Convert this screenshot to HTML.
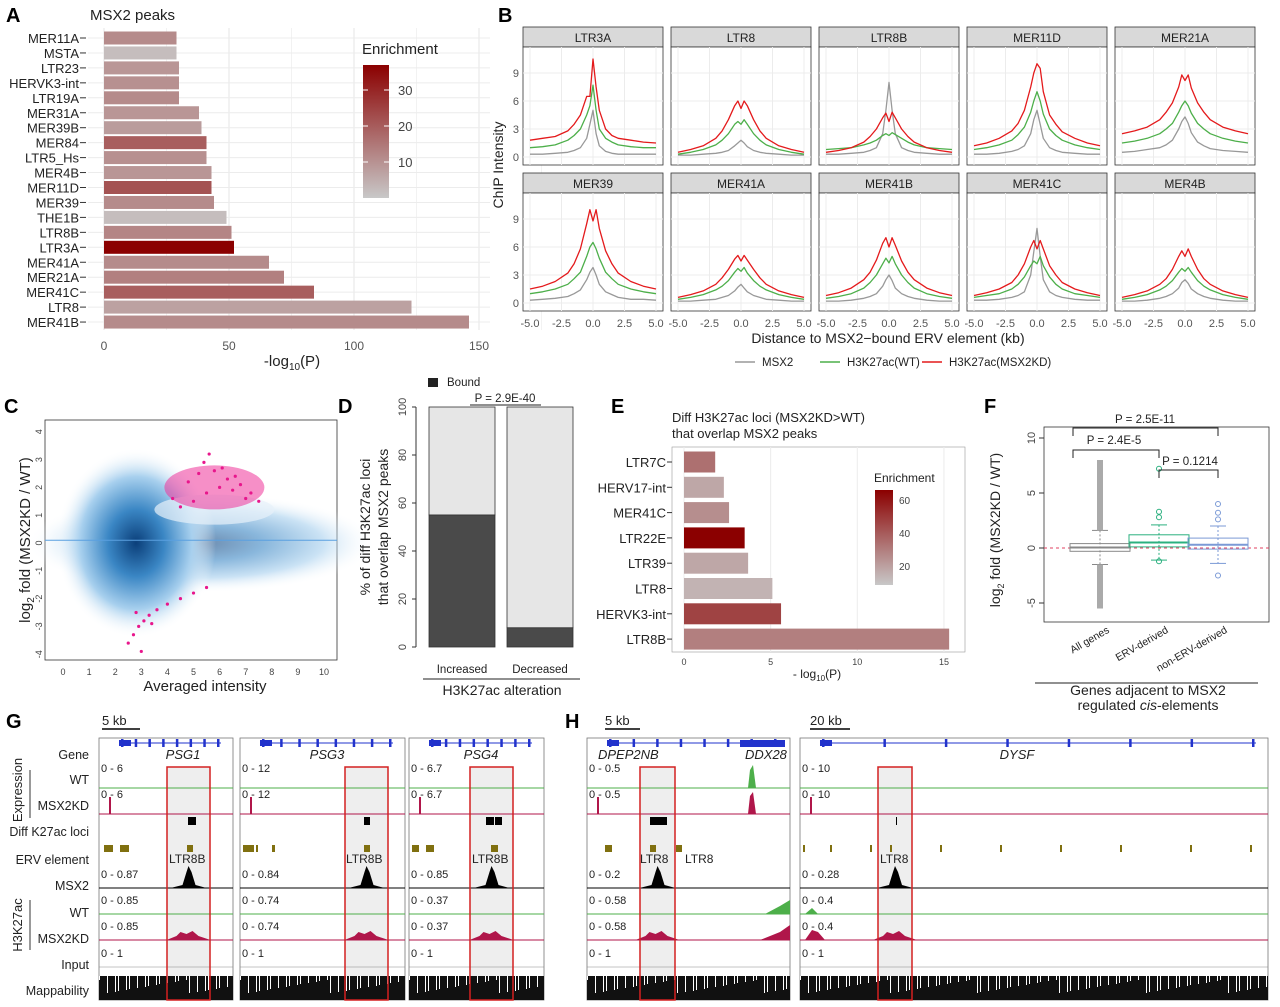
<!DOCTYPE html>
<html><head><meta charset="utf-8"><style>
body{margin:0;background:#fff;font-family:"Liberation Sans",sans-serif}
svg text{font-family:"Liberation Sans",sans-serif}
</style></head><body>
<svg id="fig" width="1280" height="1002" viewBox="0 0 1280 1002" xmlns="http://www.w3.org/2000/svg"></svg>
<script>
// ---------- Panel A data ----------
const aCats=["MER11A","MSTA","LTR23","HERVK3-int","LTR19A","MER31A","MER39B","MER84","LTR5_Hs","MER4B","MER11D","MER39","THE1B","LTR8B","LTR3A","MER41A","MER21A","MER41C","LTR8","MER41B"];
const aVals=[29,29,30,30,30,38,39,41,41,43,43,44,49,51,52,66,72,84,123,146];
const aEnr=[12,3,10,11,12,10,9,20,11,10,22,12,3,13,37,12,14,20,8,12];
const aTicks=[0,50,100,150];
const aLegTicks=[10,20,30];
// ---------- Panel B data ----------
const bFacets=["LTR3A","LTR8","LTR8B","MER11D","MER21A","MER39","MER41A","MER41B","MER41C","MER4B"];
const bX=[-5,-4,-3,-2,-1.5,-1,-0.5,-0.25,0,0.25,0.5,1,1.5,2,3,4,5];
const bMSX2=[
[0.3,0.3,0.4,0.5,0.7,1,2,3.5,5,2.5,1.2,0.6,0.4,0.3,0.3,0.3,0.3],
[0.2,0.2,0.3,0.4,0.5,0.7,1.2,1.5,1.8,1.5,1.1,0.7,0.5,0.4,0.3,0.2,0.2],
[0.3,0.3,0.4,0.5,0.7,1,2.5,5,8,5,2.5,1,0.7,0.5,0.4,0.3,0.3],
[0.3,0.3,0.4,0.6,0.8,1.2,2.5,4,5,3.5,2,1,0.7,0.5,0.4,0.3,0.3],
[0.5,0.6,0.8,1,1.3,1.8,3,3.8,4.3,3.6,2.6,1.6,1.2,0.9,0.7,0.6,0.5],
[0.3,0.4,0.5,0.7,1,1.4,2.5,3.3,3.8,3,2,1.2,0.9,0.6,0.4,0.4,0.3],
[0.2,0.2,0.3,0.4,0.6,0.8,1.3,1.7,2,1.6,1.2,0.8,0.6,0.4,0.3,0.2,0.2],
[0.2,0.2,0.3,0.5,0.7,1,1.8,2.5,3,2.4,1.6,1,0.7,0.5,0.3,0.2,0.2],
[0.3,0.3,0.4,0.6,0.8,1.2,3,5.5,8,5,2.5,1.2,0.8,0.6,0.4,0.3,0.3],
[0.2,0.2,0.3,0.5,0.7,1,1.6,2.2,2.5,2.1,1.5,1,0.7,0.5,0.3,0.2,0.2]];
const bWT=[
[1,1.1,1.3,1.8,2.3,3,4.5,5.5,7.7,5,3,2,1.6,1.3,1.1,1,1],
[0.3,0.5,0.8,1.3,1.8,2.5,3.5,3.8,3.5,4,3.5,2.5,1.8,1.3,0.8,0.5,0.3],
[0.8,0.9,1,1.3,1.5,1.8,2.3,2.5,2.3,2.6,2.4,2,1.6,1.3,1,0.9,0.8],
[0.8,1,1.3,1.8,2.4,3.2,4.8,6,7,6,4.6,3,2.3,1.8,1.3,1,0.8],
[1.5,1.7,2,2.5,3,3.6,4.8,5.5,6,5.5,4.7,3.6,3,2.5,2,1.7,1.5],
[1,1.2,1.5,2,2.6,3.3,5,6,6.5,5.8,4.8,3.3,2.6,2,1.5,1.2,1],
[0.4,0.6,0.9,1.4,1.8,2.4,3.3,3.7,3.4,3.8,3.2,2.4,1.8,1.4,0.9,0.6,0.4],
[0.5,0.7,1,1.6,2.2,3,4.2,4.8,4.3,5,4.2,3,2.2,1.6,1,0.7,0.5],
[0.6,0.8,1,1.5,2,2.8,4,4.5,4.2,5,4,2.8,2,1.5,1,0.8,0.6],
[0.4,0.6,0.9,1.4,1.8,2.4,3.3,3.7,3.4,3.8,3.3,2.4,1.8,1.4,0.9,0.6,0.4]];
const bKD=[
[1.8,2,2.2,2.8,3.5,4.5,6.5,6.5,10.5,7.5,5,3,2.3,2,1.8,1.6,1.5],
[0.5,0.8,1.2,2,2.8,4,5.5,6,5.2,6,5.5,4,2.8,2,1.2,0.8,0.5],
[0.5,0.7,1,1.6,2.2,3,4.2,4.7,3.8,4.8,4.2,3,2.2,1.6,1,0.7,0.5],
[1.2,1.5,2,2.8,3.6,5,7.5,9,10,9.5,7,4.5,3.5,2.7,2,1.5,1.2],
[2.5,2.8,3.2,4,4.8,5.8,7.5,8.8,8.2,8.8,7.4,5.8,4.8,4,3.2,2.8,2.5],
[1.5,1.8,2.3,3.2,4.2,5.8,8.5,10,8.8,10,8,5.6,4.2,3.2,2.3,1.8,1.5],
[0.6,0.9,1.3,2,2.7,3.6,4.7,5.1,4.5,5.1,4.6,3.6,2.7,2,1.3,0.9,0.6],
[0.8,1.1,1.6,2.5,3.3,4.6,6.4,7,6,7,6.2,4.5,3.3,2.5,1.6,1.1,0.8],
[0.8,1.1,1.5,2.2,3,4.2,6,6.7,5.8,6.7,5.8,4,3,2.2,1.5,1.1,0.8],
[0.6,0.9,1.3,2,2.6,3.6,5,5.6,5,5.8,5,3.6,2.6,2,1.3,0.9,0.6]];
const bYTicks=[0,3,6,9];
const bXTicks=[-5,-2.5,0,2.5,5];
// ---------- Panel D data ----------
const dCats=["Increased","Decreased"];
const dBound=[55,8];
const dTicks=[0,20,40,60,80,100];
// ---------- Panel E data ----------
const eCats=["LTR7C","HERV17-int","MER41C","LTR22E","LTR39","LTR8","HERVK3-int","LTR8B"];
const eVals=[1.8,2.3,2.6,3.5,3.7,5.1,5.6,15.3];
const eEnr=[30,12,20,67,12,8,45,25];
const eTicks=[0,5,10,15];
const eLegTicks=[20,40,60];
// ---------- Panel F data ----------
const fCats=["All genes","ERV-derived","non-ERV-derived"];
const fQ1=[-0.3,0.1,-0.1];const fMed=[0.05,0.5,0.3];const fQ3=[0.4,1.2,0.9];
const fLo=[-1.5,-1.1,-1.4];const fHi=[1.6,2.1,2.0];
const fYTicks=[-5,0,5,10];
// ---------- Panel C data ----------
const cUpX=[4.5,5,5.5,6,6.5,7,4.8,5.2,5.8,6.3,6.8,7.2,5.4,6.1,4.2,7.5,5.6,6.6];
const cUpY=[1.3,1.5,1.8,2,1.9,1.6,2.2,2.5,2.6,2.3,2.1,1.8,2.9,2.7,1.6,1.5,3.2,2.4];
const cDnX=[2.5,2.7,2.9,3.1,3.3,3.6,4,4.5,5,5.5,3,3.4,2.8];
const cDnY=[-3.6,-3.3,-3,-2.8,-2.6,-2.4,-2.2,-2,-1.8,-1.6,-3.9,-2.9,-2.5];

const S=document.getElementById('fig');const NS='http://www.w3.org/2000/svg';
function mk(tag,a,p){const e=document.createElementNS(NS,tag);for(const k in a)e.setAttribute(k,a[k]);(p||S).appendChild(e);return e;}
function tx(x,y,s,sz,anc,extra){const e=mk('text',Object.assign({x:x,y:y,'font-size':sz||12,'text-anchor':anc||'start',fill:'#222'},extra||{}));e.textContent=s;return e;}
function enrCol(v,max){const t=Math.max(0,Math.min(1,(v-1)/(max-1)));return `rgb(${Math.round(200-61*t)},${Math.round(200-200*t)},${Math.round(200-200*t)})`;}

[["A",6,22],["B",498,22],["C",4,413],["D",338,413],["E",611,413],["F",984,413],["G",6,728],["H",565,728]].forEach(l=>{const t=tx(l[1],l[2],l[0],20,'start',{'font-weight':'bold',fill:'#000'});});

// ===== Panel A =====
(function(){
const x0=104,sx=2.5,y0=38,dy=14.95;const xs=v=>x0+v*sx;
tx(90,20,"MSX2 peaks",15);
aTicks.forEach(t=>{mk('line',{x1:xs(t),x2:xs(t),y1:28,y2:330,stroke:'#e6e6e6'});mk('line',{x1:xs(t+25),x2:xs(t+25),y1:28,y2:330,stroke:'#f2f2f2'});const l=tx(xs(t),350,String(t),12,'middle',{fill:'#555'});});
aCats.forEach((c,i)=>{const y=y0+i*dy;mk('line',{x1:88,x2:490,y1:y,y2:y,stroke:'#ececec'});
const r=mk('rect',{x:x0,y:y-6.5,width:aVals[i]*sx,height:13,fill:enrCol(aEnr[i],37)});
const l=tx(79,y+5,c,13,'end');mk('line',{x1:80,x2:86,y1:y,y2:y,stroke:'#333'});});
const xt=tx(292,366,"-log",15,'middle');xt.innerHTML='-log<tspan font-size="10" dy="4">10</tspan><tspan dy="-4">(P)</tspan>';
tx(362,54,"Enrichment",15);
const g=mk('linearGradient',{id:'ga',x1:0,y1:1,x2:0,y2:0});mk('stop',{offset:0,'stop-color':'#c8c8c8'},g);mk('stop',{offset:1,'stop-color':'#8b0000'},g);
const cb=mk('rect',{x:363,y:65,width:26,height:133,fill:'url(#ga)'});
aLegTicks.forEach(t=>{const y=198-t*3.6;mk('line',{x1:363,x2:368,y1:y,y2:y,stroke:'#fff'});mk('line',{x1:384,x2:389,y1:y,y2:y,stroke:'#fff'});tx(398,y+5,String(t),13,'start',{fill:'#444'});});
})();

// ===== Panel B =====
(function(){
const colX=[523,671,819,967,1115],w=140;const rows=[{h:27,p:47,y0:157},{h:173,p:193,y0:303}];const sy=9.33;
bFacets.forEach((f,i)=>{const c=i%5,r=Math.floor(i/5);const X=colX[c],R=rows[r];
mk('rect',{x:X,y:R.h,width:w,height:20,fill:'#d9d9d9',stroke:'#333','stroke-width':0.8});
const h=tx(X+w/2,R.h+15,f,12,'middle');
mk('rect',{x:X,y:R.p,width:w,height:118,fill:'#fff',stroke:'#333','stroke-width':0.8});
const xs=v=>X+7+(v+5)*12.6;const ys=v=>R.y0-v*sy;
bXTicks.forEach(t=>mk('line',{x1:xs(t),x2:xs(t),y1:R.p,y2:R.p+118,stroke:'#ececec'}));
bYTicks.forEach(t=>mk('line',{x1:X,x2:X+w,y1:ys(t),y2:ys(t),stroke:'#ececec'}));
[[bMSX2[i],'#999','msx2'],[bWT[i],'#4daf4a','h3k27ac-wt'],[bKD[i],'#e41a1c','h3k27ac-kd']].forEach(s=>{
const p=mk('path',{d:s[0].map((v,k)=>(k?'L':'M')+xs(bX[k]).toFixed(1)+','+ys(v).toFixed(1)).join(''),fill:'none',stroke:s[1],'stroke-width':1.3,'stroke-linejoin':'round'});});
if(c==0)bYTicks.forEach(t=>tx(X-4,ys(t)+4,String(t),11,'end',{fill:'#555'}));
if(r==1)bXTicks.forEach(t=>tx(xs(t),327,t.toFixed(1),11,'middle',{fill:'#555'}));
});
const yt=tx(0,0,"ChIP Intensity",14,'middle',{transform:'translate(503,165) rotate(-90)'});
const xt=tx(888,343,"Distance to MSX2−bound ERV element (kb)",14,'middle');
[[735,'#999','MSX2'],[820,'#4daf4a','H3K27ac(WT)'],[922,'#e41a1c','H3K27ac(MSX2KD)']].forEach(l=>{mk('line',{x1:l[0],x2:l[0]+20,y1:362,y2:362,stroke:l[1],'stroke-width':1.4});const t=tx(l[0]+27,366,l[2],11.5);});
})();

// ===== Panel C =====
(function(){
const xs=v=>63+v*26.1,ys=v=>543-v*27.8;
mk('rect',{x:45,y:420,width:292,height:240,fill:'#fff',stroke:'#333','stroke-width':0.8});
const rg=mk('radialGradient',{id:'gc'});mk('stop',{offset:0,'stop-color':'#0b3f7a'},rg);mk('stop',{offset:0.35,'stop-color':'#3a86c4'},rg);mk('stop',{offset:0.7,'stop-color':'#a8d0ee'},rg);mk('stop',{offset:1,'stop-color':'#fff','stop-opacity':0},rg);
mk('ellipse',{cx:xs(5.3),cy:ys(0),rx:175,ry:50,fill:'url(#gc)',opacity:0.6});
mk('ellipse',{cx:xs(2.8),cy:ys(0),rx:80,ry:95,fill:'url(#gc)'});
mk('ellipse',{cx:xs(5.8),cy:ys(1.2),rx:60,ry:15,fill:'#e7f1fa',opacity:0.7});
mk('line',{x1:45,x2:337,y1:ys(0.1),y2:ys(0.1),stroke:'#5aa0e0','stroke-width':1});
const pk=mk('ellipse',{cx:xs(5.8),cy:ys(2),rx:50,ry:22,fill:'#ee3399',opacity:0.55});
cUpX.forEach((v,i)=>{const d=mk('circle',{cx:xs(v),cy:ys(cUpY[i]),r:1.6,fill:'#e8168c'});});
cDnX.forEach((v,i)=>{const d=mk('circle',{cx:xs(v),cy:ys(cDnY[i]),r:1.6,fill:'#e8168c'});});
for(let t=0;t<=10;t++)tx(xs(t),675,String(t),9,'middle',{fill:'#444'});
for(let t=-4;t<=4;t++)tx(0,0,String(t),9,'middle',{fill:'#444',transform:`translate(42,${ys(t)}) rotate(-90)`});
const xt=tx(205,691,"Averaged intensity",15,'middle');
const yt=mk('text',{transform:'translate(30,540) rotate(-90)','font-size':15,'text-anchor':'middle',fill:'#222'});yt.innerHTML='log<tspan font-size="10" dy="4">2</tspan><tspan dy="-4"> fold (MSX2KD / WT)</tspan>';
})();

// ===== Panel D =====
(function(){
const ys=v=>647-v*2.4;const bx=[429,507];
mk('rect',{x:428,y:378,width:10,height:9,fill:'#222'});tx(447,386,"Bound",11.5);
mk('line',{x1:470,x2:541,y1:405,y2:405,stroke:'#222'});tx(505,402,"P = 2.9E-40",11.5,'middle');
dCats.forEach((c,i)=>{const a=mk('rect',{x:bx[i],y:ys(100),width:66,height:ys(dBound[i])-ys(100),fill:'#e6e6e6',stroke:'#333','stroke-width':0.8});
const b=mk('rect',{x:bx[i],y:ys(dBound[i]),width:66,height:ys(0)-ys(dBound[i]),fill:'#4a4a4a',stroke:'#333','stroke-width':0.8});
tx(bx[i]+33,673,c,11.5,'middle');});
dTicks.forEach(t=>{mk('line',{x1:412,x2:416,y1:ys(t),y2:ys(t),stroke:'#333'});tx(0,0,String(t),11,'middle',{fill:'#444',transform:`translate(406,${ys(t)}) rotate(-90)`});});
mk('line',{x1:416,x2:416,y1:ys(0),y2:ys(100),stroke:'#333'});
mk('line',{x1:423,x2:580,y1:679,y2:679,stroke:'#222'});
const xt=tx(502,695,"H3K27ac alteration",14,'middle');
tx(0,0,"% of diff H3K27ac loci",14,'middle',{transform:'translate(370,527) rotate(-90)'});
tx(0,0,"that overlap MSX2  peaks",14,'middle',{transform:'translate(388,527) rotate(-90)'});
})();

// ===== Panel E =====
(function(){
const xs=v=>684+v*17.33,y0=462,dy=25.3;
tx(672,422,"Diff H3K27ac loci (MSX2KD>WT)",13);tx(672,438,"that overlap MSX2 peaks",13);
mk('rect',{x:672,y:447,width:293,height:205,fill:'#fff',stroke:'#999','stroke-width':0.6});
eTicks.forEach(t=>{mk('line',{x1:xs(t),x2:xs(t),y1:447,y2:652,stroke:'#ececec'});tx(xs(t),665,String(t),9,'middle',{fill:'#444'});});
eCats.forEach((c,i)=>{const y=y0+i*dy;const r=mk('rect',{x:684,y:y-10.5,width:eVals[i]*17.33,height:21,fill:enrCol(eEnr[i],67)});
const l=tx(666,y+5,c,13,'end');mk('line',{x1:667,x2:672,y1:y,y2:y,stroke:'#333'});});
const xt=mk('text',{x:817,y:678,'font-size':12,'text-anchor':'middle',fill:'#222'});xt.innerHTML='- log<tspan font-size="8" dy="3">10</tspan><tspan dy="-3">(P)</tspan>';
tx(874,482,"Enrichment",12);
const g=mk('linearGradient',{id:'ge',x1:0,y1:1,x2:0,y2:0});mk('stop',{offset:0,'stop-color':'#c8c8c8'},g);mk('stop',{offset:1,'stop-color':'#8b0000'},g);
mk('rect',{x:875,y:490,width:18,height:95,fill:'url(#ge)'});
eLegTicks.forEach(t=>tx(899,599-t*1.65+4,String(t),10,'start',{fill:'#444'}));
})();

// ===== Panel F =====
(function(){
const ys=v=>548-v*11;const cx=[1100,1159,1218],col=['#888','#2bb07f','#7b9ad6'];
mk('rect',{x:1044,y:427,width:225,height:195,fill:'#fff',stroke:'#333','stroke-width':0.8});
mk('line',{x1:1044,x2:1269,y1:ys(0),y2:ys(0),stroke:'#e04060','stroke-dasharray':'3,3'});
fCats.forEach((c,i)=>{const x=cx[i];
mk('line',{x1:x,x2:x,y1:ys(fHi[i]),y2:ys(fLo[i]),stroke:col[i],'stroke-dasharray':'2,2'});
mk('line',{x1:x-8,x2:x+8,y1:ys(fHi[i]),y2:ys(fHi[i]),stroke:col[i]});mk('line',{x1:x-8,x2:x+8,y1:ys(fLo[i]),y2:ys(fLo[i]),stroke:col[i]});
const b=mk('rect',{x:x-30,y:ys(fQ3[i]),width:60,height:ys(fQ1[i])-ys(fQ3[i]),fill:'none',stroke:col[i]});
mk('line',{x1:x-30,x2:x+30,y1:ys(fMed[i]),y2:ys(fMed[i]),stroke:col[i],'stroke-width':2});
tx(0,0,c,10.5,'end',{transform:`translate(${x+10},${632}) rotate(-30)`});});
mk('rect',{x:1097,y:ys(8),width:6,height:ys(1.6)-ys(8),fill:'#aaa'});mk('rect',{x:1097,y:ys(-1.5),width:6,height:ys(-5.5)-ys(-1.5),fill:'#aaa'});
[[1159,7.2],[1159,3.3],[1159,2.8],[1159,-1.2],[1218,4],[1218,3.2],[1218,2.6],[1218,-2.5]].forEach(p=>mk('circle',{cx:p[0],cy:ys(p[1]),r:2.5,fill:'none',stroke:p[0]==1159?col[1]:col[2]}));
fYTicks.forEach(t=>{mk('line',{x1:1039,x2:1044,y1:ys(t),y2:ys(t),stroke:'#333'});tx(0,0,String(t),11,'middle',{fill:'#444',transform:`translate(1035,${ys(t)}) rotate(-90)`});});
const yt=mk('text',{transform:'translate(1000,530) rotate(-90)','font-size':14,'text-anchor':'middle',fill:'#222'});yt.innerHTML='log<tspan font-size="9" dy="4">2</tspan><tspan dy="-4"> fold (MSX2KD / WT)</tspan>';
[[1073,1218,428,"P = 2.5E-11",1145,423],[1073,1159,450,"P = 2.4E-5",1114,444],[1159,1218,470,"P = 0.1214",1190,465]].forEach(b=>{mk('path',{d:`M${b[0]},${b[2]+8}V${b[2]}H${b[1]}V${b[2]+8}`,fill:'none',stroke:'#222'});tx(b[4],b[5],b[3],11.5,'middle');});
mk('line',{x1:1035,x2:1258,y1:683,y2:683,stroke:'#222'});
tx(1148,695,"Genes adjacent to MSX2",14,'middle');
const t2=mk('text',{x:1148,y:710,'font-size':14,'text-anchor':'middle',fill:'#222'});t2.innerHTML='regulated <tspan font-style="italic">cis</tspan>-elements';
})();

// ===== Panels G & H (genome tracks) =====
(function(){
const rowY=[755,780,806,832,860,886,913,939,965,991];
const names=["Gene","WT","MSX2KD","Diff K27ac loci","ERV element","MSX2","WT","MSX2KD","Input","Mappability"];
names.forEach((n,i)=>{const t=tx(89,rowY[i]+4,n,12.5,'end');});
tx(0,0,"Expression",13,'middle',{transform:'translate(22,790) rotate(-90)'});tx(0,0,"H3K27ac",13,'middle',{transform:'translate(22,925) rotate(-90)'});
mk('line',{x1:30,x2:30,y1:770,y2:818,stroke:'#333'});mk('line',{x1:30,x2:30,y1:900,y2:950,stroke:'#333'});
mk('line',{x1:102,x2:140,y1:729,y2:729,stroke:'#000','stroke-width':1.5});tx(102,725,"5 kb",13);
mk('line',{x1:605,x2:640,y1:729,y2:729,stroke:'#000','stroke-width':1.5});tx(605,725,"5 kb",13);
mk('line',{x1:810,x2:850,y1:729,y2:729,stroke:'#000','stroke-width':1.5});tx(810,725,"20 kb",13);
const panels=[
{x:99,w:134,gene:"PSG1",gx:183,sc:["0 - 6","0 - 6","0 - 0.87","0 - 0.85","0 - 0.85","0 - 1"],box:[167,210],erv:[[104,113],[120,129],[187,193]],ltr:[["LTR8B",169]],diff:[[188,196]]},
{x:240,w:165,gene:"PSG3",gx:327,sc:["0 - 12","0 - 12","0 - 0.84","0 - 0.74","0 - 0.74","0 - 1"],box:[345,388],erv:[[243,254],[256,258],[272,275],[364,370]],ltr:[["LTR8B",346]],diff:[[364,370]]},
{x:409,w:135,gene:"PSG4",gx:481,sc:["0 - 6.7","0 - 6.7","0 - 0.85","0 - 0.37","0 - 0.37","0 - 1"],box:[470,513],erv:[[412,419],[426,434],[491,498]],ltr:[["LTR8B",472]],diff:[[486,494],[495,502]]},
{x:587,w:203,gene:"DPEP2NB",gx:598,sc:["0 - 0.5","0 - 0.5","0 - 0.2","0 - 0.58","0 - 0.58","0 - 1"],box:[640,675],erv:[[605,612],[650,656],[676,682]],ltr:[["LTR8",640],["LTR8",685]],diff:[[650,667]]},
{x:800,w:468,gene:"DYSF",gx:1017,sc:["0 - 10","0 - 10","0 - 0.28","0 - 0.4","0 - 0.4","0 - 1"],box:[878,912],erv:[[803,805],[830,832],[870,872],[890,892],[940,942],[1000,1002],[1060,1062],[1120,1122],[1190,1192],[1250,1252]],ltr:[["LTR8",880]],diff:[[896,897]]}];
panels.forEach((p,pi)=>{
const fr=mk('rect',{x:p.x,y:738,width:p.w,height:262,fill:'#fff',stroke:'#777','stroke-width':0.8});
mk('rect',{x:p.box[0],y:767,width:p.box[1]-p.box[0],height:233,fill:'#eee'});
mk('line',{x1:p.x+20,x2:p.x+p.w-12,y1:743,y2:743,stroke:'#2233cc','stroke-width':1});
for(let k=0;k<8;k++){const gx=p.x+22+k*(p.w-38)/7;mk('rect',{x:gx,y:739,width:2.5,height:8,fill:'#2233cc'});}
mk('rect',{x:p.x+20,y:740,width:12,height:6,fill:'#2233cc'});
if(pi==3)mk('rect',{x:740,y:740,width:45,height:7,fill:'#2233cc'});
const gl=tx(p.gx,759,p.gene,13,pi==3?'start':'middle',{'font-style':'italic'});
if(pi==3)tx(745,759,"DDX28",13,'start',{'font-style':'italic'});
const sY=[772,798,878,904,930,957];const base=[788,814,888,914,940,967];const cols=['#4daf4a','#b0164a','#000','#4daf4a','#b0164a','#888'];
sY.forEach((y,k)=>{tx(p.x+2,y,p.sc[k],11);mk('line',{x1:p.x,x2:p.x+p.w,y1:base[k],y2:base[k],stroke:cols[k],'stroke-width':k==5?0.5:1});});
const c=(p.box[0]+p.box[1])/2;
mk('path',{d:`M${c-18},888L${c-6},885L${c-2},872L${c},866L${c+3},872L${c+7},885L${c+18},888Z`,fill:'#000'});
mk('path',{d:`M${c-22},940L${c-12},936L${c-8},932L${c-2},934L${c+4},931L${c+10},936L${c+22},940Z`,fill:'#b0164a'});
mk('path',{d:`M${p.x+10},814V797H${p.x+12}V814Z`,fill:'#b0164a'});
if(pi==3){mk('path',{d:'M748,788L750,770L753,765L756,788Z',fill:'#4daf4a'});mk('path',{d:'M748,814L750,796L753,792L756,814Z',fill:'#b0164a'});mk('path',{d:'M765,914L780,906L790,900L790,914Z',fill:'#4daf4a'});mk('path',{d:'M760,940L780,932L790,925L790,940Z',fill:'#b0164a'});}
if(pi==4){mk('path',{d:'M805,940L812,930L818,932L825,940Z',fill:'#b0164a'});mk('path',{d:'M805,914L812,908L818,914Z',fill:'#4daf4a'});}
p.diff.forEach(d=>mk('rect',{x:d[0],y:817,width:d[1]-d[0],height:8,fill:'#000'}));
p.erv.forEach(e=>mk('rect',{x:e[0],y:845,width:Math.max(2,e[1]-e[0]),height:7,fill:'#807010'}));
p.ltr.forEach(l=>tx(l[1],863,l[0],12,'start'));
const m=mk('rect',{x:p.x,y:976,width:p.w,height:24,fill:'#111'});
for(let k=0;k<p.w/6;k++){mk('rect',{x:p.x+k*6+((k*7)%5),y:976,width:1,height:4+((k*13)%14),fill:'#fff'});}
const rb=mk('rect',{x:p.box[0],y:767,width:p.box[1]-p.box[0],height:233,fill:'none',stroke:'#d42020','stroke-width':1.5});
});
})();
</script>
</body></html>
